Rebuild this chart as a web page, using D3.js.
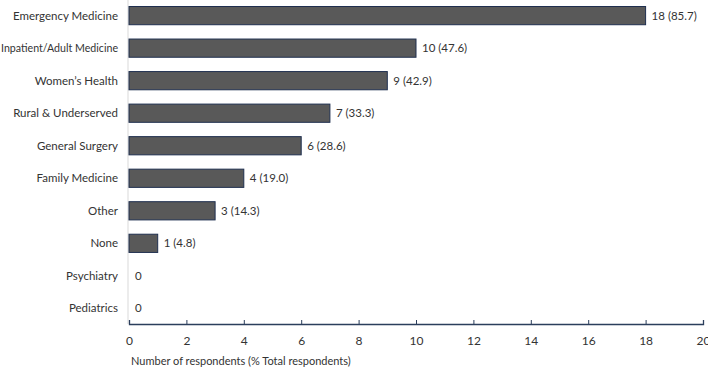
<!DOCTYPE html>
<html>
<head>
<meta charset="utf-8">
<script src="https://cdn.jsdelivr.net/npm/d3@7"></script>
<style>
  body { margin: 0; background: #fff; }
  text { font-family: Lato, "Open Sans", sans-serif; fill: #333; }
</style>
</head>
<body>
<div id="chart"></div>
<script>
// Categories (top to bottom) and their counts / percentages
const categories = ["Emergency Medicine", "Inpatient/Adult Medicine", "Women\u2019s Health",
  "Rural & Underserved", "General Surgery", "Family Medicine", "Other", "None",
  "Psychiatry", "Pediatrics"];
const counts = [18, 10, 9, 7, 6, 4, 3, 1, 0, 0];
const percents = [85.7, 47.6, 42.9, 33.3, 28.6, 19.0, 14.3, 4.8, null, null];
const xTicks = [0, 2, 4, 6, 8, 10, 12, 14, 16, 18, 20];

const data = categories.map((c, i) => ({ name: c, count: counts[i], pct: percents[i] }));

const width = 708, height = 368;
const margin = {top: 0, right: 5, bottom: 44, left: 129};

const svg = d3.select("#chart").append("svg")
    .attr("width", width)
    .attr("height", height);

const x = d3.scaleLinear().domain([0, 20]).range([margin.left, width - margin.right]);
const y = d3.scaleBand().domain(categories)
    .range([margin.top, height - margin.bottom])
    .paddingInner(0.44).paddingOuter(0.2);

// light vertical baseline at zero
svg.append("line")
    .attr("x1", x(0) - 1).attr("x2", x(0) - 1)
    .attr("y1", 0).attr("y2", height - margin.bottom)
    .attr("stroke", "#d9d9d9").attr("stroke-width", 1);

// bars
svg.append("g").selectAll("rect")
  .data(data.filter(d => d.count > 0))
  .enter().append("rect")
    .attr("x", x(0))
    .attr("y", d => y(d.name))
    .attr("width", d => x(d.count) - x(0))
    .attr("height", y.bandwidth())
    .attr("fill", "#595959")
    .attr("stroke", "#1f2f4f")
    .attr("stroke-width", 1);

// value labels
svg.append("g").selectAll("text")
  .data(data)
  .enter().append("text")
    .attr("x", d => x(d.count) + 6)
    .attr("y", d => y(d.name) + y.bandwidth() / 2)
    .attr("dy", "0.35em")
    .style("font-size", "11.5px")
    .text(d => d.pct == null ? d.count : d.count + " (" + d.pct.toFixed(1) + ")");

// category labels (squeeze any label that would run off the left edge)
const labelRight = x(0) - 11;
svg.append("g").selectAll("text")
  .data(data)
  .enter().append("text")
    .attr("x", labelRight)
    .attr("y", d => y(d.name) + y.bandwidth() / 2)
    .attr("dy", "0.35em")
    .attr("text-anchor", "end")
    .style("font-size", "11.5px")
    .text(d => d.name)
    .each(function() {
        const len = this.getComputedTextLength();
        if (len > labelRight - 1) {
            d3.select(this).attr("textLength", labelRight - 1).attr("lengthAdjust", "spacingAndGlyphs");
        }
    });

// x axis
const axisY = height - margin.bottom;
const xAxis = svg.append("g")
    .attr("transform", "translate(0," + axisY + ")")
    .call(d3.axisBottom(x).tickValues(xTicks).tickSize(-4).tickPadding(12));
xAxis.select(".domain").attr("stroke", "#2b3e5c").attr("stroke-width", 1.3);
xAxis.selectAll(".tick line").attr("stroke", "#2b3e5c");
xAxis.selectAll(".tick text")
    .style("font-size", "12px")
    .style("font-family", "Lato, 'Open Sans', sans-serif")
    .attr("fill", "#444");

// axis title
svg.append("text")
    .attr("x", x(0) + 2)
    .attr("y", 365)
    .style("font-size", "11px")
    .text("Number of respondents (% Total respondents)");
</script>
</body>
</html>
